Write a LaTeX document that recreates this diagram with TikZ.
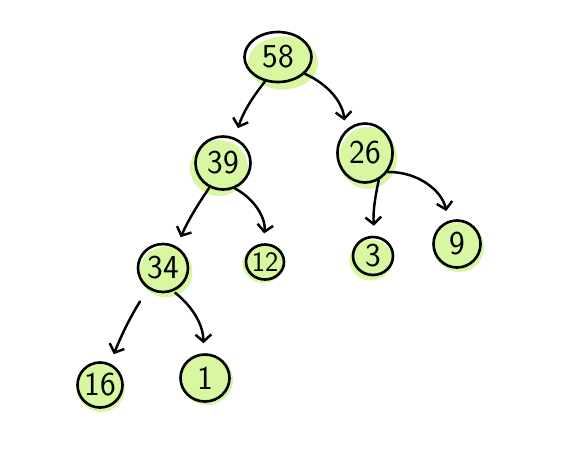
\documentclass[tikz,border=0pt]{standalone}
\usepackage{tikz}
\usetikzlibrary{arrows.meta,shapes.geometric}
\definecolor{leaf}{RGB}{216,247,160}
\tikzset{
  key/.style={ellipse,draw,line width=1.5pt,inner sep=0pt,
    font=\sffamily\fontsize{19}{21}\selectfont},
  link/.style={line width=1.4pt,line cap=round,
    -{Straight Barb[length=4pt,width=9pt]},shorten >=0.2cm}
}
\newcommand\heapkey[6]{%
  \fill[leaf] ([shift={#5}]#2) ellipse ({#3/2+0.03} and {#4/2+0.03});
  \node[key,minimum width=#3cm,minimum height=#4cm] (#1) at (#2) {#6};}

\begin{document}
\begin{tikzpicture}
\useasboundingbox (0,0) rectangle (11.4,-9.2);
\heapkey{n58}{5.56,-1.14}{1.34}{1.0}{(0.1,-0.12)}{58}
\heapkey{n39}{4.46,-3.26}{1.1}{1.06}{(-0.08,-0.1)}{39}
\heapkey{n26}{7.30,-3.06}{1.1}{1.18}{(0.06,-0.1)}{26}
\heapkey{n34}{3.26,-5.36}{1.0}{0.96}{(0.06,-0.08)}{34}
\heapkey{n12}{5.30,-5.24}{0.76}{0.7}{(-0.04,-0.04)}{\fontsize{16}{18}\selectfont 12}
\heapkey{n3}{7.46,-5.12}{0.8}{0.76}{(-0.04,-0.08)}{3}
\heapkey{n9}{9.14,-4.88}{0.94}{0.94}{(0.04,-0.06)}{9}
\heapkey{n16}{2.0,-7.70}{0.9}{0.9}{(0.02,-0.06)}{16}
\heapkey{n1}{4.10,-7.56}{0.98}{0.94}{(0.04,-0.04)}{1}
\draw[link] (n58.242) to[bend right=10] (n39.65);
\draw[link] (n58.328) to[bend left=30] (n26.131);
\draw[link] (n39.241) to[bend right=5] (n34.58);
\draw[link] (n39.295) to[bend left=35] (n12.97);
\draw[link] (n26.297) to[bend right=8] (n3.86);
\draw[link] (n26.320) to[bend left=40] (n9.111);
\draw[link,shorten <=0.3cm] (n34.234) to[bend right=5] (n16.65);
\draw[link,shorten <=0.05cm] (n34.294) to[bend left=25] (n1.93);
\end{tikzpicture}
\end{document}
